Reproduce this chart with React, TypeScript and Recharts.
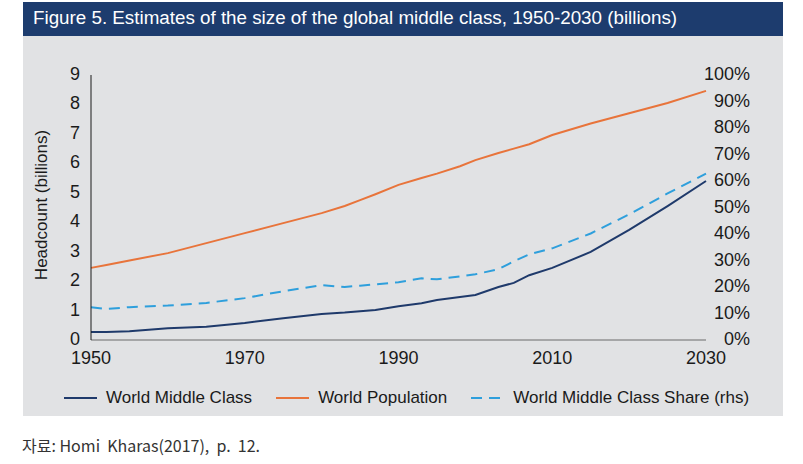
import { LineChart, Line, XAxis, YAxis } from "recharts";

const NAVY = "#1f3a6b";
const ORANGE = "#e8743b";
const SKY = "#2e9fdc";
const PANEL = "#e1e2e4";
const TITLE_BG = "#1d3c6e";
const FONT = "Arial, 'Liberation Sans', sans-serif";

const years = [
  1950, 1952, 1955, 1960, 1965, 1970, 1975, 1980, 1983, 1985, 1987, 1990,
  1993, 1995, 1998, 2000, 2003, 2005, 2007, 2010, 2015, 2020, 2025, 2030,
];
const worldPopulation = [
  2.45, 2.55, 2.7, 2.95, 3.29, 3.63, 3.97, 4.31, 4.55, 4.75, 4.95, 5.27,
  5.5, 5.65, 5.9, 6.11, 6.35, 6.5, 6.65, 6.96, 7.35, 7.7, 8.05, 8.46,
];
const worldMiddleClass = [
  0.27, 0.27, 0.3, 0.4, 0.45, 0.58, 0.74, 0.88, 0.93, 0.98, 1.02, 1.15,
  1.25, 1.36, 1.46, 1.53, 1.8, 1.94, 2.2, 2.45, 2.99, 3.74, 4.55, 5.4,
];
const middleClassShare = [
  0.124, 0.117, 0.124, 0.13, 0.14, 0.158, 0.184, 0.207, 0.2, 0.205, 0.21, 0.218,
  0.233, 0.229, 0.24, 0.248, 0.267, 0.297, 0.323, 0.346, 0.402, 0.474, 0.553, 0.628,
];

const xTicks = [1950, 1970, 1990, 2010, 2030];
const leftTicks = [0, 1, 2, 3, 4, 5, 6, 7, 8, 9];
const rightTicks = [0, 0.1, 0.2, 0.3, 0.4, 0.5, 0.6, 0.7, 0.8, 0.9, 1];

const data = years.map((year, i) => ({
  year,
  middle: worldMiddleClass[i],
  population: worldPopulation[i],
  share: middleClassShare[i],
}));

function RightTick(props: any) {
  const { y, payload } = props;
  return (
    <text x={750} y={y} dy="0.3em" textAnchor="end" fontSize={18} fill="#1a1a1a" fontFamily={FONT}>
      {`${Math.round(payload.value * 100)}%`}
    </text>
  );
}

function LeftTick(props: any) {
  const { y, payload } = props;
  return (
    <text x={80} y={y} dy="0.28em" textAnchor="end" fontSize={18} fill="#1a1a1a" fontFamily={FONT}>
      {payload.value}
    </text>
  );
}

function LegendItem({ color, dashed, label }: { color: string; dashed?: boolean; label: string }) {
  return (
    <div style={{ display: "flex", alignItems: "center" }}>
      <svg width={33} height={4} style={{ marginRight: 9 }}>
        <line x1={0} y1={2} x2={33} y2={2} stroke={color} strokeWidth={2} strokeDasharray={dashed ? "11 7" : undefined} />
      </svg>
      <span>{label}</span>
    </div>
  );
}

export default function App() {
  return (
    <div style={{ position: "absolute", left: 0, top: 0, width: 803, height: 464, background: "#fff", fontFamily: FONT }}>
      <div style={{ position: "absolute", left: 23, top: 2, width: 760, height: 34, background: TITLE_BG }} />
      <div
        style={{
          position: "absolute",
          left: 33,
          top: 7,
          color: "#fff",
          fontSize: 18.8,
          whiteSpace: "nowrap",
        }}
      >
        Figure 5. Estimates of the size of the global middle class, 1950-2030 (billions)
      </div>
      <div style={{ position: "absolute", left: 23, top: 36, width: 760, height: 380, background: PANEL }} />

      <div style={{ position: "absolute", left: 0, top: 0 }}>
        <LineChart width={803} height={380} data={data} margin={{ top: 75, right: 0, bottom: 0, left: 0 }}>
          <XAxis
            dataKey="year"
            type="number"
            domain={[1950, 2030]}
            ticks={xTicks}
            tickLine={false}
            tickSize={0}
            tickMargin={11}
            height={40}
            stroke="#6b6b6b"
            tick={{ fill: "#1a1a1a", fontSize: 18, fontFamily: FONT }}
          />
          <YAxis
            yAxisId="left"
            domain={[0, 9]}
            ticks={leftTicks}
            width={91}
            tickLine={false}
            stroke="#1a1a1a"
            tick={<LeftTick />}
          />
          <YAxis
            yAxisId="right"
            orientation="right"
            domain={[0, 1]}
            ticks={rightTicks}
            width={97}
            axisLine={false}
            tickLine={false}
            tick={<RightTick />}
          />
          <Line yAxisId="left" type="linear" dataKey="middle" stroke={NAVY} strokeWidth={2} dot={false} isAnimationActive={false} />
          <Line yAxisId="left" type="linear" dataKey="population" stroke={ORANGE} strokeWidth={2} dot={false} isAnimationActive={false} />
          <Line yAxisId="right" type="linear" dataKey="share" stroke={SKY} strokeWidth={2} strokeDasharray="11 7" dot={false} isAnimationActive={false} />
        </LineChart>
      </div>

      <div
        style={{
          position: "absolute",
          left: 42,
          top: 205,
          transform: "translate(-50%, -50%) rotate(-90deg)",
          fontSize: 17,
          color: "#1a1a1a",
          whiteSpace: "nowrap",
        }}
      >
        Headcount (billions)
      </div>

      <div
        style={{
          position: "absolute",
          left: 64,
          top: 388,
          display: "flex",
          gap: 24,
          fontSize: 17,
          color: "#1a1a1a",
          whiteSpace: "nowrap",
        }}
      >
        <LegendItem color={NAVY} label="World Middle Class" />
        <LegendItem color={ORANGE} label="World Population" />
        <LegendItem color={SKY} dashed label="World Middle Class Share (rhs)" />
      </div>

      <div
        style={{
          position: "absolute",
          left: 22,
          top: 433,
          fontSize: 16,
          color: "#333",
          whiteSpace: "pre",
          fontFamily: "'Noto Sans CJK KR', sans-serif",
        }}
      >
        자료: Homi  Kharas(2017),  p.  12.
      </div>
    </div>
  );
}
